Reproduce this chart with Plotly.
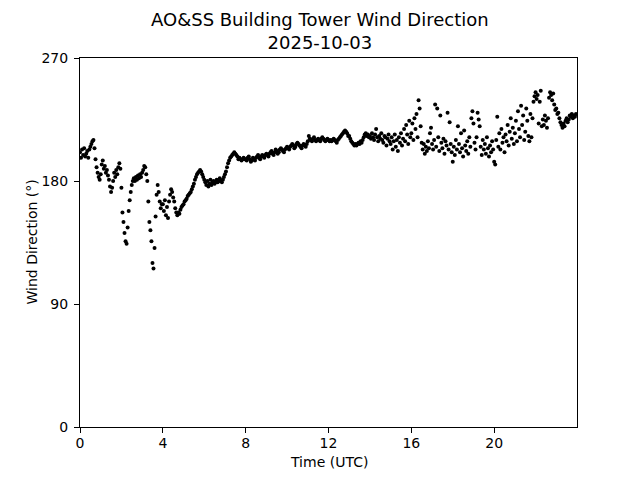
import plotly.graph_objects as go

# Sampling grid: one observation every 3 minutes (20 per hour)
STEP_MIN = 3

# Wind direction (degrees), one row per UTC hour
h00 = [201,197,203,199,204,198,200,202,197,203,205,207,209,210,204,196,190,186,183,181]
h01 = [185,192,195,189,191,186,188,184,181,176,172,175,180,186,183,188,185,190,193,189]
h02 = [175,157,150,142,136,134,146,158,166,172,177,180,182,180,183,181,184,182,185,183]
h03 = [186,188,191,190,185,180,165,150,144,136,120,116,131,154,170,177,172,165,160,163]
h04 = [163,158,166,155,161,153,165,170,174,172,168,165,160,157,155,157,156,159,161,162]
h05 = [163,165,166,167,169,170,171,172,174,176,178,181,183,185,186,187,188,187,185,183]
h06 = [181,179,177,180,176,178,181,177,179,180,178,179,181,179,180,182,180,179,181,183]
h07 = [185,187,190,193,195,197,198,199,200,201,200,199,198,196,197,196,195,196,197,196]
h08 = [196,195,197,198,196,194,195,197,196,195,197,198,199,197,196,198,199,198,197,199]
h09 = [200,199,198,200,201,202,200,199,201,203,202,200,201,203,204,203,202,201,203,204]
h10 = [205,204,203,205,206,207,206,204,205,207,208,207,206,205,204,206,207,206,205,207]
h11 = [209,213,211,210,209,211,212,210,209,210,211,210,209,211,212,211,210,209,210,211]
h12 = [210,209,210,209,210,211,210,209,208,210,211,212,213,214,215,216,217,216,215,213]
h13 = [213,211,209,208,207,206,207,206,207,208,207,209,208,210,212,214,215,213,214,212]
h14 = [213,211,215,212,210,214,218,212,209,213,211,215,210,208,213,212,206,211,214,209]
h15 = [207,212,203,209,214,205,210,202,212,208,215,206,211,218,209,221,214,207,224,212]
h16 = [215,222,210,226,218,229,212,239,233,220,208,203,207,200,205,202,209,204,215,219]
h17 = [207,203,210,236,205,233,212,202,228,208,204,211,200,209,206,230,203,223,207,201]
h18 = [194,205,199,210,203,220,207,201,215,204,198,217,206,202,209,200,212,205,226,231]
h19 = [222,208,203,212,230,225,220,205,199,210,203,207,200,212,204,198,206,201,209,203]
h20 = [194,192,210,227,205,215,203,218,208,212,201,214,209,221,206,216,226,211,219,207]
h21 = [215,224,209,231,218,212,235,221,228,210,216,233,224,213,209,229,212,226,238,242]
h22 = [245,240,243,222,238,246,220,225,221,228,224,219,226,241,245,243,239,244,236,232]
h23 = [233,229,230,226,223,221,219,222,220,224,226,223,225,228,227,229,226,228,227,229]

hours = [h00,h01,h02,h03,h04,h05,h06,h07,h08,h09,h10,h11,
         h12,h13,h14,h15,h16,h17,h18,h19,h20,h21,h22,h23]
direction = [v for row in hours for v in row]
time_h = [i * STEP_MIN / 60.0 for i in range(len(direction))]

x_ticks = [0, 4, 8, 12, 16, 20]
y_ticks = [0, 90, 180, 270]

title_text = "AO&amp;SS Building Tower Wind Direction<br>2025-10-03"
x_title = "Time (UTC)"
y_title = "Wind Direction (°)"

fig = go.Figure()
fig.add_trace(go.Scatter(
    x=time_h, y=direction, mode="markers",
    marker=dict(color="black", size=4, line=dict(width=0)),
    showlegend=False,
))

axis_common = dict(
    showline=True, linecolor="black", linewidth=1, mirror=True,
    ticks="outside", ticklen=5, tickwidth=1, tickcolor="black",
    showgrid=False, zeroline=False, automargin=False,
    tickfont=dict(family="DejaVu Sans", size=14, color="black"),
)

L, R, T, B = 80, 63, 58, 53
PW, PH = 640 - L - R, 480 - T - B
lab_font = dict(family="DejaVu Sans", size=14, color="black")

fig.update_layout(
    width=640, height=480,
    paper_bgcolor="white", plot_bgcolor="white",
    margin=dict(l=L, r=R, t=T, b=B, autoexpand=False),
    font=dict(family="DejaVu Sans", color="black"),
    xaxis=dict(range=[0, 24], tickvals=x_ticks, ticktext=[str(t) for t in x_ticks],
               ticklabelstandoff=-2, **axis_common),
    yaxis=dict(range=[0, 270], tickvals=y_ticks, ticktext=[str(t) for t in y_ticks],
               ticklabelstandoff=3, **axis_common),
    annotations=[
        dict(text=title_text, showarrow=False,
             xref="paper", x=(320 - L) / PW, xanchor="center",
             yref="paper", y=1 + (T - 7) / PH, yanchor="top",
             font=dict(family="DejaVu Sans", size=18, color="black")),
        dict(text=x_title, showarrow=False, borderpad=0,
             xref="paper", x=0.5, xanchor="center",
             yref="paper", y=-(462 - (480 - B)) / PH, yanchor="middle",
             font=lab_font),
        dict(text=y_title, showarrow=False, textangle=-90, borderpad=0,
             xref="paper", x=-(L - 31) / PW, xanchor="center",
             yref="paper", y=0.5, yanchor="middle",
             font=lab_font),
    ],
)

fig.write_html("out.html", config={"displayModeBar": False},
               post_script="document.body.style.margin='0';")
